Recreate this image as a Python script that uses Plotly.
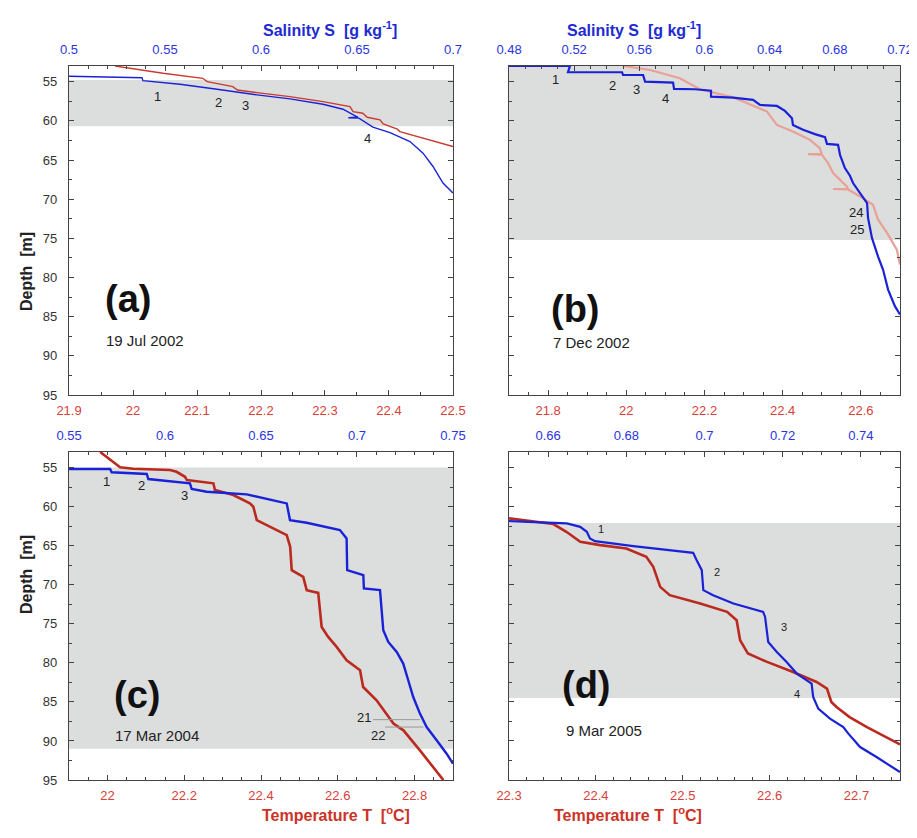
import plotly.graph_objects as go

FONT = "Liberation Sans, Arial, sans-serif"
RED_TXT = "#d8403a"
BLUE_TXT = "#2a35e0"
AXC = "#444444"
BAND = "#dcdddd"

# ---------------- data ----------------
# (a) 19 Jul 2002
a_T = [21.972, 22.016, 22.047, 22.109, 22.116, 22.156, 22.163, 22.194, 22.245, 22.297,
       22.339, 22.344, 22.359, 22.366, 22.386, 22.391, 22.413, 22.417, 22.453, 22.480, 22.5]
a_T_depth = [53.0, 53.60, 53.93, 54.57, 55.0, 55.64, 56.06, 56.40, 56.91, 57.55,
             58.18, 58.82, 59.03, 59.54, 59.88, 60.39, 61.06, 61.37, 62.21, 62.85, 63.28]
a_S = [0.5, 0.5255, 0.538, 0.5385, 0.5578, 0.5771, 0.5854, 0.5979, 0.6151, 0.6323, 0.6427,
       0.6505, 0.6455, 0.651, 0.6583, 0.6672, 0.6776, 0.6844, 0.6896, 0.6948, 0.7]
a_S_depth = [54.31, 54.44, 54.5, 54.87, 55.33, 55.97, 56.27, 56.69, 57.20, 57.88, 58.52,
             59.55, 59.6, 59.65, 60.81, 61.50, 62.64, 64.12, 65.83, 67.94, 69.22]
a_band = [54.8, 60.7]

# (b) 7 Dec 2002
b_T = [21.992, 22.061, 22.137, 22.188, 22.273, 22.36, 22.385, 22.426, 22.470, 22.495,
       22.5, 22.465, 22.5, 22.516, 22.529, 22.564, 22.567, 22.529, 22.567, 22.598,
       22.631, 22.644, 22.667, 22.692, 22.7]
b_T_depth = [53.0, 53.51, 54.57, 55.97, 56.99, 58.82, 60.52, 61.37, 62.43, 63.48,
             64.25, 64.25, 64.32, 65.39, 66.67, 68.38, 68.7, 68.7, 68.76, 69.65,
             70.71, 72.62, 74.31, 76.44, 78.35]
b_S = [0.48, 0.5174, 0.5162, 0.5494, 0.55, 0.5623, 0.5635, 0.5807, 0.5813, 0.5942,
       0.604, 0.604, 0.6175, 0.6298, 0.6341, 0.6445, 0.6494, 0.6537, 0.6543, 0.6605,
       0.6678, 0.674, 0.6752, 0.6820, 0.6832, 0.6862, 0.6893, 0.6912, 0.6955, 0.6998,
       0.7004, 0.7028, 0.7065, 0.7096, 0.7127, 0.7169, 0.72]
b_S_depth = [53.0, 53.0, 53.80, 53.80, 54.15, 54.15, 55.0, 55.13, 55.93, 55.97,
             56.15, 56.91, 57.04, 57.33, 57.97, 58.10, 58.73, 59.66, 60.52, 61.15,
             61.70, 62.08, 62.94, 63.06, 64.34, 66.03, 67.01, 67.94, 69.22, 70.49,
             72.40, 74.95, 77.29, 78.99, 81.54, 83.66, 84.72]
b_band = [53.0, 75.2]

# (c) 17 Mar 2004
c_T = [21.981, 22.007, 22.033, 22.067, 22.163, 22.180, 22.202, 22.207, 22.276, 22.280,
       22.328, 22.371, 22.380, 22.389, 22.432, 22.467, 22.476, 22.480, 22.510, 22.519,
       22.549, 22.558, 22.575, 22.597, 22.623, 22.658, 22.666, 22.701, 22.745, 22.771,
       22.814, 22.875]
c_T_depth = [53.0, 54.03, 54.96, 55.14, 55.31, 55.53, 56.17, 56.59, 57.01, 57.87,
             58.51, 59.58, 60.01, 61.72, 62.78, 63.64, 65.14, 68.13, 68.99, 70.69,
             71.04, 75.40, 76.68, 77.96, 79.67, 80.95, 83.09, 84.79, 87.78, 88.64,
             91.21, 95.0]
c_S = [0.55, 0.5714, 0.5722, 0.5905, 0.5913, 0.613, 0.6139, 0.6217, 0.6426, 0.6634,
       0.6651, 0.6738, 0.6911, 0.6946, 0.6949, 0.7033, 0.7036, 0.712, 0.7137, 0.7163,
       0.7207, 0.7241, 0.7267, 0.7293, 0.7328, 0.7363, 0.7415, 0.7467, 0.75]
c_S_depth = [55.18, 55.18, 55.60, 55.82, 56.46, 57.01, 57.74, 58.09, 58.42, 59.58,
             61.72, 62.06, 63.0, 64.06, 68.13, 68.77, 70.47, 70.69, 75.82, 77.32,
             78.60, 80.09, 82.23, 84.37, 86.50, 88.22, 89.92, 91.63, 92.91]
c_band = [55.0, 91.0]

# (d) 9 Mar 2005
d_T = [22.3, 22.328, 22.351, 22.366, 22.382, 22.405, 22.435, 22.458, 22.466, 22.474,
       22.485, 22.520, 22.551, 22.562, 22.566, 22.575, 22.597, 22.627, 22.654, 22.666,
       22.671, 22.677, 22.692, 22.712, 22.735, 22.75]
d_T_depth = [61.50, 61.94, 62.23, 63.22, 64.50, 64.92, 65.35, 66.42, 67.71, 70.27,
             71.33, 72.40, 73.47, 74.54, 77.10, 78.81, 79.88, 81.17, 82.45, 83.29,
             85.01, 85.65, 86.94, 88.22, 89.50, 90.44]
d_S = [0.65, 0.6648, 0.6682, 0.6699, 0.6707, 0.6720, 0.6818, 0.6971, 0.6980, 0.6993,
       0.6997, 0.7022, 0.7074, 0.7150, 0.7155, 0.7159, 0.7163, 0.7185, 0.7210, 0.7236,
       0.7274, 0.7278, 0.7291, 0.7321, 0.7355, 0.7368, 0.7398, 0.7440, 0.7474, 0.75]
d_S_depth = [61.85, 62.14, 62.58, 63.22, 64.06, 64.41, 65.05, 65.91, 66.85, 68.13,
             70.69, 71.33, 72.40, 73.47, 74.12, 75.82, 77.32, 78.60, 79.88, 81.37,
             82.65, 84.37, 85.86, 87.14, 88.22, 89.06, 90.78, 92.06, 93.13, 93.99]
d_band = [62.1, 84.5]

# step labels (text, temperature-axis position, depth)
a_labels = [("1", 22.039, 56.95), ("2", 22.133, 57.71), ("3", 22.175, 58.10), ("4", 22.366, 62.30)]
b_labels = [("1", 21.820, 54.70), ("2", 21.965, 55.51), ("3", 22.027, 55.97), ("4", 22.101, 57.11),
            ("24", 22.587, 71.64), ("25", 22.589, 73.89)]
c_labels = [("1", 21.998, 56.81), ("2", 22.089, 57.32), ("3", 22.200, 58.60),
            ("21", 22.668, 87.06), ("22", 22.705, 89.33)]
d_labels = [("1", 22.406, 62.91), ("2", 22.539, 68.42), ("3", 22.616, 75.39), ("4", 22.632, 84.03)]
c_leader_T = [[22.692, 22.814], [22.723, 22.823]]
c_leader_depth = [87.27, 88.22]

panel_tags = ["(a)", "(b)", "(c)", "(d)"]
panel_dates = ["19 Jul 2002", "7 Dec 2002", "17 Mar 2004", "9 Mar 2005"]
tag_pos = [(21.992, 82.8), (21.869, 84.08), (22.076, 84.15), (22.389, 82.87)]
date_pos = [(22.019, 88.0), (21.912, 88.33), (22.128, 89.28), (22.409, 88.64)]

T_ranges = [[21.9, 22.5], [21.7, 22.7], [21.9, 22.9], [22.3, 22.75]]
T_dtick = [0.1, 0.2, 0.2, 0.1]
T_tick0 = [21.9, 21.8, 22.0, 22.3]
T_minor = [0.05, 0.05, 0.05, 0.02]
S_ranges = [[0.5, 0.7], [0.48, 0.72], [0.55, 0.75], [0.65, 0.75]]
S_dtick = [0.05, 0.04, 0.05, 0.02]
S_tick0 = [0.5, 0.48, 0.55, 0.66]
S_minor = [0.01, 0.01, 0.01, 0.005]
depth_range = [95, 53]

# ---------------- layout geometry (window pixels) ----------------
OFF = 8                      # default page margin of the html body
W, H = 917 - OFF, 838 - 2 * OFF
px_x = [(69, 453), (509, 900), (69, 453), (509, 900)]
px_y = [(66, 395), (66, 395), (452, 780), (452, 780)]

def fx(p):
    return (p - OFF) / W

def fy(p):
    return 1 - (p - OFF) / H

series = [
    (a_T, a_T_depth, a_S, a_S_depth, a_band, a_labels),
    (b_T, b_T_depth, b_S, b_S_depth, b_band, b_labels),
    (c_T, c_T_depth, c_S, c_S_depth, c_band, c_labels),
    (d_T, d_T_depth, d_S, d_S_depth, d_band, d_labels),
]
red_style = [dict(color="#c93a30", width=1.4), dict(color="#e9a095", width=2.2),
             dict(color="#bb2a1f", width=2.6), dict(color="#bb2a1f", width=2.6)]
blue_style = [dict(color="#1a22d8", width=1.4), dict(color="#1a22d8", width=2.2),
              dict(color="#1a22d8", width=2.4), dict(color="#1a22d8", width=2.2)]

fig = go.Figure()
layout = dict(width=W, height=H, margin=dict(l=0, r=0, t=0, b=0),
              paper_bgcolor="white", plot_bgcolor="white", showlegend=False,
              template="none", font=dict(family=FONT, size=13, color="#222"))
shapes, annotations = [], []

def eps(r):
    d = (r[1] - r[0]) * 1e-4
    return [r[0] - d, r[1] + d]

for i in range(4):
    xT = "x%d" % (2 * i + 1) if i > 0 else "x"
    xS = "x%d" % (2 * i + 2)
    yy = "y%d" % (i + 1) if i > 0 else "y"
    kT = "xaxis%d" % (2 * i + 1) if i > 0 else "xaxis"
    kS = "xaxis%d" % (2 * i + 2)
    ky = "yaxis%d" % (i + 1) if i > 0 else "yaxis"
    dom_x = [fx(px_x[i][0]), fx(px_x[i][1])]
    dom_y = [fy(px_y[i][1]), fy(px_y[i][0])]

    layout[kT] = dict(domain=dom_x, range=eps(T_ranges[i]), anchor=yy, side="bottom",
                      tick0=T_tick0[i], dtick=T_dtick[i], ticks="inside", ticklen=5,
                      tickcolor=AXC, tickwidth=1, showline=True, linecolor=AXC, linewidth=1.3,
                      minor=dict(dtick=T_minor[i], tick0=T_tick0[i], ticks="inside", ticklen=3,
                                 tickcolor=AXC, tickwidth=1),
                      tickfont=dict(color=RED_TXT, size=13, family=FONT),
                      ticklabelstandoff=3,
                      showgrid=False, zeroline=False, automargin=False, fixedrange=True)
    layout[kS] = dict(overlaying=xT, range=eps(S_ranges[i]), anchor=yy, side="top",
                      tick0=S_tick0[i], dtick=S_dtick[i], ticks="inside", ticklen=5,
                      tickcolor=AXC, tickwidth=1, showline=True, linecolor=AXC, linewidth=1.3,
                      minor=dict(dtick=S_minor[i], tick0=S_tick0[i], ticks="inside", ticklen=3,
                                 tickcolor=AXC, tickwidth=1),
                      tickfont=dict(color=BLUE_TXT, size=13, family=FONT),
                      ticklabelstandoff=6,
                      showgrid=False, zeroline=False, automargin=False, fixedrange=True)
    layout[ky] = dict(domain=dom_y, range=depth_range, anchor=xT, tick0=55, dtick=5,
                      ticks="inside", ticklen=5, tickcolor=AXC, tickwidth=1,
                      showline=True, linecolor=AXC, linewidth=1.3, mirror="ticks",
                      minor=dict(dtick=2.5, tick0=55, ticks="inside", ticklen=3,
                                 tickcolor=AXC, tickwidth=1),
                      showticklabels=(i in (0, 2)),
                      tickfont=dict(color="#333", size=13, family=FONT),
                      ticklabelstandoff=8,
                      showgrid=False, zeroline=False, automargin=False, fixedrange=True)

    T, Td, S, Sd, band, labels = series[i]
    shapes.append(dict(type="rect", xref=xT + " domain", yref=yy, x0=0, x1=1,
                       y0=band[0], y1=band[1], fillcolor=BAND, line=dict(width=0),
                       layer="below"))
    fig.add_trace(go.Scatter(x=T, y=Td, xaxis=xT, yaxis=yy, mode="lines",
                             line=red_style[i], hoverinfo="skip", cliponaxis=True))
    fig.add_trace(go.Scatter(x=S, y=Sd, xaxis=xS, yaxis=yy, mode="lines",
                             line=blue_style[i], hoverinfo="skip", cliponaxis=True))
    if i == 2:
        for lt, ld in zip(c_leader_T, c_leader_depth):
            fig.add_trace(go.Scatter(x=lt, y=[ld, ld], xaxis=xT, yaxis=yy, mode="lines",
                                     line=dict(color="#9a9a9a", width=1), hoverinfo="skip"))
    lsize = 11 if i == 3 else 13
    for txt, lx, ld in labels:
        annotations.append(dict(text=txt, x=lx, y=ld, xref=xT, yref=yy, showarrow=False,
                                font=dict(size=lsize, color="#222", family=FONT)))
    annotations.append(dict(text="<b>%s</b>" % panel_tags[i], x=tag_pos[i][0], y=tag_pos[i][1],
                            xref=xT, yref=yy, showarrow=False,
                            font=dict(size=38, color="#111", family=FONT)))
    annotations.append(dict(text=panel_dates[i], x=date_pos[i][0], y=date_pos[i][1],
                            xref=xT, yref=yy, showarrow=False,
                            font=dict(size=15, color="#222", family=FONT)))

sal_title = "<b>Salinity S\u00a0\u00a0[g kg<sup>-1</sup>]</b>"
tem_title = "<b>Temperature T\u00a0\u00a0[<sup>o</sup>C]</b>"
for cx in (260.5, 703):
    annotations.append(dict(text=sal_title, x=fx(cx), y=fy(17), xref="paper", yref="paper",
                            showarrow=False, font=dict(size=16, color="#1e2ad2", family=FONT)))
for cx in (260, 704):
    annotations.append(dict(text=tem_title, x=fx(cx), y=fy(826), xref="paper", yref="paper",
                            showarrow=False, font=dict(size=16, color="#cc3328", family=FONT)))
for cy in (230, 616):
    annotations.append(dict(text="<b>Depth\u00a0\u00a0[m]</b>", x=fx(16), y=fy(cy),
                            xref="paper", yref="paper", showarrow=False, textangle=-90,
                            font=dict(size=16, color="#222", family=FONT)))

layout["shapes"] = shapes
layout["annotations"] = annotations
fig.update_layout(**layout)
fig.write_html("out.html")
